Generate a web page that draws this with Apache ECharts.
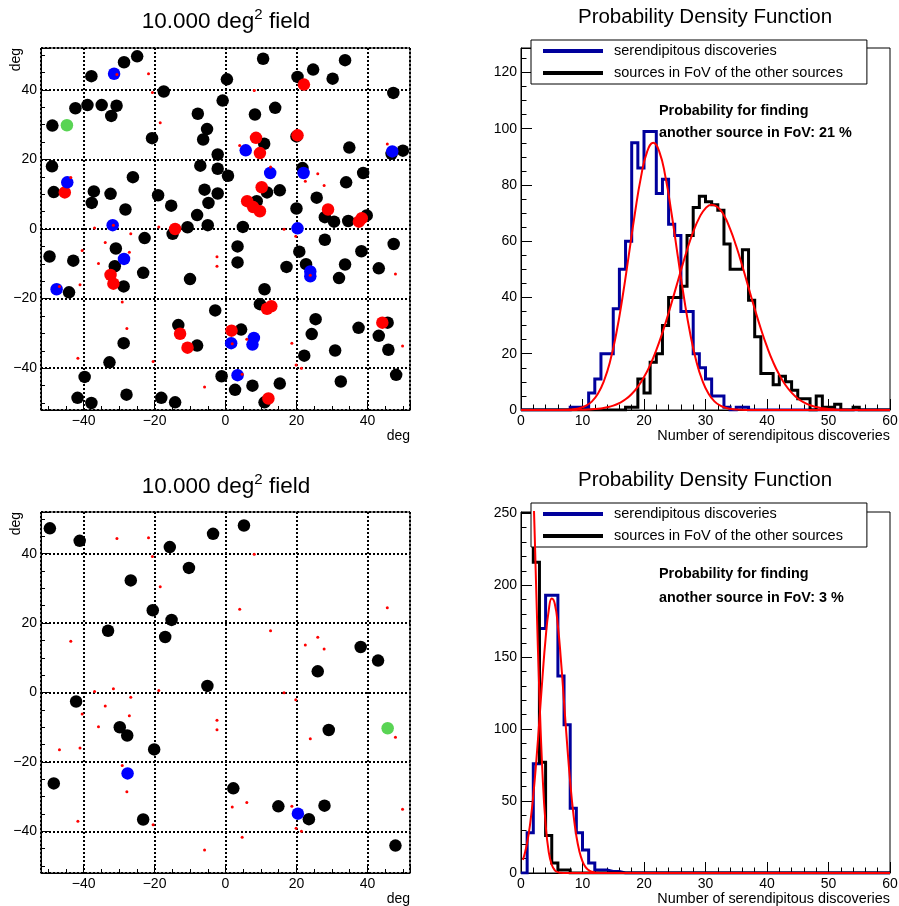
<!DOCTYPE html>
<html><head><meta charset="utf-8">
<script src="https://cdn.jsdelivr.net/npm/echarts@6.0.0/dist/echarts.min.js"></script>
<style>html,body{margin:0;padding:0;background:#fff}#c{width:899px;height:906px}</style>
</head><body><div id="c"></div>
<script>
// ---------------- DATA ----------------
// Top-left field (deg, deg)
const tlBlack = [
[-24.9,49.6],[-28.6,47.9],[-37.8,43.9],[-17.4,39.5],[-42.3,34.7],[-38.9,35.6],[-34.9,35.6],[-30.7,35.4],[-32.2,32.5],[-48.8,29.7],
[-48.9,18.0],[-48.4,10.6],[-37.1,10.8],[-37.7,7.5],[-32.4,10.1],[-28.2,5.6],[-26.1,14.9],[-20.7,26.1],[-19.0,9.7],[-15.3,6.7],
[-49.6,-7.9],[-42.9,-9.1],[-44.1,-18.2],[-30.9,-5.6],[-31.2,-10.7],[-28.7,-16.5],[-22.8,-2.6],[-23.2,-12.6],[-14.9,-1.4],[-10.7,0.5],
[-10.0,-14.4],[-28.7,-32.8],[-32.7,-38.3],[-39.7,-42.5],[-41.7,-48.5],[-37.8,-50.0],[-27.9,-47.6],[-18.1,-48.5],[-14.2,-49.8],[-13.3,-27.6],
[-8.0,-33.5],[-2.9,-23.4],[-1.1,-42.3],[2.7,-46.2],[4.4,-28.9],[7.6,-45.0],[11.0,-49.8],[15.3,-44.4],[-7.8,33.1],[-5.2,28.7],
[-6.3,25.7],[-7.1,18.2],[-5.9,11.3],[-4.8,7.5],[-8.0,4.0],[-5.0,1.1],[-2.2,21.4],[-2.2,17.3],[-2.2,10.2],[0.7,15.3],
[-0.8,36.9],[0.4,43.0],[10.6,48.9],[8.3,32.9],[14.0,34.8],[10.9,24.5],[3.4,-5.0],[3.4,-9.6],[4.9,0.6],[8.8,8.0],
[15.3,11.1],[11.7,10.5],[17.2,-10.9],[11.0,-17.3],[9.7,-21.6],[20.3,43.7],[24.7,45.8],[30.2,43.2],[33.7,48.5],[47.3,39.1],
[20.0,26.6],[34.9,23.4],[46.8,21.6],[50.0,22.5],[21.7,17.5],[34.0,13.4],[38.8,16.1],[25.7,9.0],[20.0,5.9],[28.0,3.4],
[30.6,2.1],[34.6,2.3],[39.8,3.9],[28.0,-3.1],[47.4,-4.3],[38.3,-6.4],[20.8,-6.5],[22.7,-10.1],[33.7,-10.2],[32.0,-14.1],
[43.2,-11.3],[25.4,-25.9],[45.7,-26.9],[24.3,-30.2],[37.5,-28.4],[43.2,-30.7],[45.9,-34.7],[30.9,-34.9],[22.2,-36.4],[32.5,-43.8],
[48.1,-41.9]
];
const tlRed = [[22.1,41.5],[20.3,26.9],[8.6,26.2],[9.7,21.8],[10.2,12.0],[6.1,8.0],[7.8,6.3],[9.7,5.1],[28.9,5.6],[37.6,2.1],
[38.4,3.1],[-14.2,0.0],[-45.3,10.5],[-32.4,-13.2],[-31.6,-15.7],[-12.8,-30.1],[-10.7,-34.1],[1.7,-29.2],[11.7,-22.9],[12.9,-22.2],
[12.1,-48.7],[44.2,-26.9]];
const tlBlue = [[-31.4,44.6],[-44.6,13.4],[-31.8,1.1],[-28.6,-8.6],[-47.6,-17.3],[5.7,22.6],[12.6,16.1],[22.0,16.1],[20.3,0.2],
[23.9,-12.2],[23.9,-13.6],[1.6,-32.8],[8.0,-31.3],[7.6,-33.2],[3.4,-42.0],[47.0,22.3]];
const tlGreen = [[-44.7,29.8]];
// small red dots (same in both fields)
const smallRed = [[-21.7,44.6],[-30.6,44.4],[-20.6,39.2],[-18.4,30.5],[8.1,39.8],[4.0,24.0],[12.7,17.8],[26.0,15.9],[22.5,13.7],
[27.8,12.5],[45.6,24.4],[-43.6,14.8],[-36.9,0.3],[-31.6,1.1],[-26.7,-1.4],[-33.9,-3.9],[-27.1,-6.7],[-40.4,-6.2],[-35.8,-9.9],
[-41.0,-16.0],[-46.8,-16.5],[-29.1,-21.0],[-27.8,-28.6],[-41.6,-37.1],[-20.4,-38.1],[-18.8,0.6],[-2.4,-8.0],[-2.4,-10.7],
[-5.9,-45.4],[1.9,-33.0],[6.0,-31.7],[4.7,-41.7],[16.5,-0.1],[19.8,-2.1],[23.9,-13.3],[18.7,-32.8],[19.9,-39.1],[21.4,-40.0],
[47.9,-12.9],[49.9,-33.6]];
// Bottom-left field
const blBlack = [[-49.5,47.3],[-41.1,43.7],[-26.7,32.3],[-15.7,41.9],[-10.3,35.9],[-3.5,45.7],[5.2,48.1],[-20.5,23.7],[-15.2,20.9],
[-17.0,16.0],[-33.1,17.8],[-5.1,1.9],[-42.1,-2.6],[-29.8,-10.0],[-27.7,-12.4],[-20.1,-16.4],[-48.4,-26.2],[-23.2,-36.6],[2.2,-27.6],
[14.9,-32.8],[23.5,-36.5],[27.9,-32.6],[26.0,6.1],[29.1,-10.8],[38.1,13.1],[43.0,9.2],[47.9,-44.1]];
const blBlue = [[-27.6,-23.3],[20.4,-34.9]];
const blGreen = [[45.7,-10.3]];

// Histograms: counts per unit bin, index = bin low edge (0..59)
const topBlueCounts = [0,0,0,0,0,0,0,0,1,1, 1,6,11,20,20,36,50,60,95,86, 99,99,77,82,66,62,35,35,20,15,
  11,5,5,1,0,1,1,0,0,0, 0,0,0,0,0,0,0,0,0,0, 0,0,0,0,0,0,0,0,0,0];
const topBlackCounts = [0,0,0,0,0,0,0,0,0,0, 0,0,0,0,0,0,0,1,1,11, 6,17,20,30,40,40,44,62,72,76,
  74,73,71,59,50,50,57,39,26,13, 13,9,12,10,7,4,4,0,5,1, 1,2,0,0,1,0,0,0,0,0];
const botBlueCounts = [0,28,76,170,193,193,137,103,45,28, 16,7,2,2,1,1,0,0,0,0,
  0,0,0,0,0,0,0,0,0,0, 0,0,0,0,0,0,0,0,0,0, 0,0,0,0,0,0,0,0,0,0, 0,0,0,0,0,0,0,0,0,0];
const botBlackCounts = [330,340,216,77,26,7,2,2,0,0, 0,0,0,0,0,0,0,0,0,0,
  0,0,0,0,0,0,0,0,0,0, 0,0,0,0,0,0,0,0,0,0, 0,0,0,0,0,0,0,0,0,0, 0,0,0,0,0,0,0,0,0,0];

// Fit curves [x, y]
const topBlueFit = [[0,0],[4.5,0],[6.5,0.02],[7.5,0.11],[8.5,0.27],[9.5,0.65],[10.5,1.44],[11.5,2.98],[12.5,5.75],[13.5,10.4],
  [14.5,17.4],[15.5,27.3],[16.5,40.0],[17.5,54.6],[18.5,69.6],[19.5,82.7],[20.5,91.8],[21.5,95],[22.5,91.8],[23.5,82.7],
  [24.5,69.6],[25.5,54.6],[26.5,40.0],[27.5,27.3],[28.5,17.4],[29.5,10.4],[30.5,5.75],[31.5,2.98],[32.5,1.44],[33.5,0.65],
  [34.5,0.27],[35.5,0.11],[36.5,0.02],[38.5,0],[60,0]];
const topBlackFit = [[0,0],[6,0],[8,0.02],[9,0.04],[10,0.08],[11,0.17],[12,0.32],[13,0.57],[14,0.95],[15,1.55],[16,2.5],[17,3.8],
  [18,5.7],[19,8.3],[20,11.7],[21,16],[22,21.3],[23,27.5],[24,34.5],[25,42],[26,49.6],[27,56.9],[28,63.3],[29,68.4],[30,71.7],
  [31,73],[32,72.1],[33,69.2],[34,64.4],[35,58.2],[36,51.1],[37,43.5],[38,36],[39,28.9],[40,22.5],[41,17],[42,12.5],[43,8.9],
  [44,6.2],[45,4.1],[46,2.7],[47,1.7],[48,1.05],[49,0.62],[50,0.36],[51,0.2],[52,0.1],[53,0.05],[54,0.02],[56,0],[60,0]];
const botBlueFit = [[0.3,9.2],[0.5,11.8],[1,21],[1.5,34.7],[2,54],[2.5,78.5],[3,107],[3.5,136.4],[4,162.9],[4.5,182.2],[5,190.7],
  [5.5,187],[6,171.7],[6.5,147.6],[7,118.8],[7.5,89.6],[8,63.2],[8.5,41.8],[9,25.8],[9.5,15],[10,8.1],[10.5,4.1],[11,2],
  [11.5,0.9],[12,0.36],[12.5,0.14],[13,0.05],[14,0],[60,0]];
const botBlackFit = [[0,283.6],[0.5,337.8],[1,355],[1.5,328.6],[2,268.3],[2.5,193.3],[3,122.8],[3.5,68.8],[4,34],[4.5,14.8],
  [5,5.7],[5.5,1.9],[6,0.57],[6.5,0.15],[7,0.04],[8,0],[60,0]];

const scatterTitle = ['10.000 deg', '2', ' field'];
const histTitle = 'Probability Density Function';
const legendNames = ['serendipitous discoveries', 'sources in FoV of the other sources'];
const probTexts = [['Probability for finding', 'another source in FoV: 21 %'], ['Probability for finding', 'another source in FoV: 3 %']];
const xTitleScatter = 'deg', yTitleScatter = 'deg';
const xTitleHist = 'Number of serendipitous discoveries';

// ---------------- CHART ----------------
const FONT = "'Liberation Sans', Arial, Helvetica, sans-serif";
const fmt = v => String(v).replace('-', '\u2212');
const BLUE_H = '#00009c';

const panels = [
  {left:41, top:48, width:369, height:362},
  {left:521, top:48, width:369, height:362},
  {left:41, top:512, width:369, height:361},
  {left:521, top:512, width:369, height:361}
];

function baseAxis(gridIndex, majorLen, minorLen, minorSplit) {
  return {
    type:'value', gridIndex,
    axisLine:{show:true, onZero:false, lineStyle:{color:'#000', width:1}},
    axisTick:{show:true, inside:true, length:majorLen, lineStyle:{color:'#000', width:1}},
    minorTick:{show:true, splitNumber:minorSplit, length:minorLen, lineStyle:{color:'#000', width:1}},
    axisLabel:{show:true, color:'#000', fontSize:14, fontFamily:FONT, margin:4, formatter:fmt,
               showMinLabel:false, showMaxLabel:false}
  };
}
function scatterAxis(gridIndex) {
  const a = baseAxis(gridIndex, 8, 4, 4);
  a.min = -52; a.max = 52; a.splitNumber = 5;
  a.splitLine = {show:true, lineStyle:{color:'#000', width:2, type:[2,2]}};
  return a;
}
function histX(gridIndex) {
  const a = baseAxis(gridIndex, 11, 5.5, 5);
  a.min = 0; a.max = 60; a.interval = 10;
  a.axisLabel.showMinLabel = true; a.axisLabel.showMaxLabel = true;
  a.splitLine = {show:false};
  return a;
}
function histY(gridIndex, max, split, minorSplit) {
  const a = baseAxis(gridIndex, 11, 5.5, minorSplit);
  a.min = 0; a.max = max; a.splitNumber = split;
  a.axisLabel.showMinLabel = true;
  a.splitLine = {show:false};
  return a;
}

function scatterSeries(data, color, size, g) {
  return {type:'scatter', xAxisIndex:g, yAxisIndex:g, data, symbol:'circle', symbolSize:size,
          itemStyle:{color, opacity:1}, silent:true};
}
const toSteps = counts => counts.map((c,i)=>[i,c]).concat([[counts.length, counts[counts.length-1]]]);
function histSeries(name, counts, color, g) {
  return {type:'line', name, xAxisIndex:g, yAxisIndex:g, data:toSteps(counts), step:'end', showSymbol:false, symbol:'none',
          lineStyle:{color, width:3, join:'miter', cap:'butt'}, itemStyle:{color}, clip:true, silent:true};
}
function fitSeries(name, data, g) {
  return {type:'line', name, xAxisIndex:g, yAxisIndex:g, data, smooth:0.5, showSymbol:false, symbol:'none',
          lineStyle:{color:'#ff0000', width:2, join:'round'}, itemStyle:{color:'#ff0000'}, clip:true, silent:true, z:4};
}

function legendAt(top) {
  return {show:true, left:531, top, orient:'vertical', data:legendNames, icon:'rect', itemWidth:60, itemHeight:4,
    itemGap:6, padding:[3,24,3,12], backgroundColor:'#fff', borderColor:'#000', borderWidth:1, borderRadius:0,
    selectedMode:false, textStyle:{color:'#000', fontSize:14.5, fontFamily:FONT, lineHeight:16, padding:[0,0,0,6]}};
}

function txt(x, y, text, size, opts) {
  opts = opts || {};
  return {type:'text', x, y, rotation:opts.rotation || 0, silent:true,
    style:{text, fill:'#000', font:(opts.bold?'bold ':'') + size + 'px ' + FONT,
      align:opts.align || 'left', textAlign:opts.align || 'left', verticalAlign:'middle', textVerticalAlign:'middle'}};
}
function richTitle(x, y) {
  return {type:'text', x, y, silent:true,
    style:{text:'{a|' + scatterTitle[0] + '}{s|' + scatterTitle[1] + '}{a|' + scatterTitle[2] + '}',
      align:'center', textAlign:'center', verticalAlign:'middle', textVerticalAlign:'middle', fill:'#000',
      rich:{a:{fontSize:22.5, fontFamily:FONT, lineHeight:30, fill:'#000', verticalAlign:'middle'},
            s:{fontSize:15, fontFamily:FONT, lineHeight:14, fill:'#000', verticalAlign:'top'}}}};
}

const graphics = [
  richTitle(226, 22), richTitle(226, 487),
  txt(705, 17, histTitle, 20.5, {align:'center'}), txt(705, 480, histTitle, 20.5, {align:'center'}),
  txt(410, 436, xTitleScatter, 14, {align:'right'}), txt(410, 899, xTitleScatter, 14, {align:'right'}),
  txt(16, 48, yTitleScatter, 14, {align:'right', rotation:Math.PI/2}), txt(16, 512, yTitleScatter, 14, {align:'right', rotation:Math.PI/2}),
  txt(890, 436, xTitleHist, 14.4, {align:'right'}), txt(890, 899, xTitleHist, 14.4, {align:'right'}),
  txt(659, 111, probTexts[0][0], 14.4, {bold:true}), txt(659, 133, probTexts[0][1], 14.4, {bold:true}),
  txt(659, 574, probTexts[1][0], 14.4, {bold:true}), txt(659, 598, probTexts[1][1], 14.4, {bold:true})
];

const option = {
  animation:false,
  backgroundColor:'#fff',
  textStyle:{fontFamily:FONT},
  grid: panels.map(p => Object.assign({show:true, borderColor:'#000', borderWidth:1, backgroundColor:'transparent',
                                        containLabel:false, outerBoundsMode:'none'}, p)),
  xAxis:[scatterAxis(0), histX(1), scatterAxis(2), histX(3)],
  yAxis:[scatterAxis(0), histY(1, 128.7, 6, 4), scatterAxis(2), histY(3, 250.9, 5, 5)],
  legend:[legendAt(40), legendAt(503)],
  series:[
    scatterSeries(tlBlack, '#000000', 12.5, 0),
    scatterSeries(tlRed, '#ff0000', 12.5, 0),
    scatterSeries(tlBlue, '#0000ff', 12.5, 0),
    scatterSeries(tlGreen, '#59d454', 12.5, 0),
    scatterSeries(smallRed, '#ff0000', 3, 0),
    histSeries(legendNames[0], topBlueCounts, BLUE_H, 1),
    histSeries(legendNames[1], topBlackCounts, '#000000', 1),
    fitSeries('fitTopBlue', topBlueFit, 1),
    fitSeries('fitTopBlack', topBlackFit, 1),
    scatterSeries(blBlack, '#000000', 12.5, 2),
    scatterSeries(blBlue, '#0000ff', 12.5, 2),
    scatterSeries(blGreen, '#59d454', 12.5, 2),
    scatterSeries(smallRed, '#ff0000', 3, 2),
    histSeries(legendNames[0], botBlueCounts, BLUE_H, 3),
    histSeries(legendNames[1], botBlackCounts, '#000000', 3),
    fitSeries('fitBotBlue', botBlueFit, 3),
    fitSeries('fitBotBlack', botBlackFit, 3)
  ],
  graphic: graphics
};
const chart = echarts.init(document.getElementById('c'), null, {renderer:'canvas'});
chart.setOption(option);
</script></body></html>
